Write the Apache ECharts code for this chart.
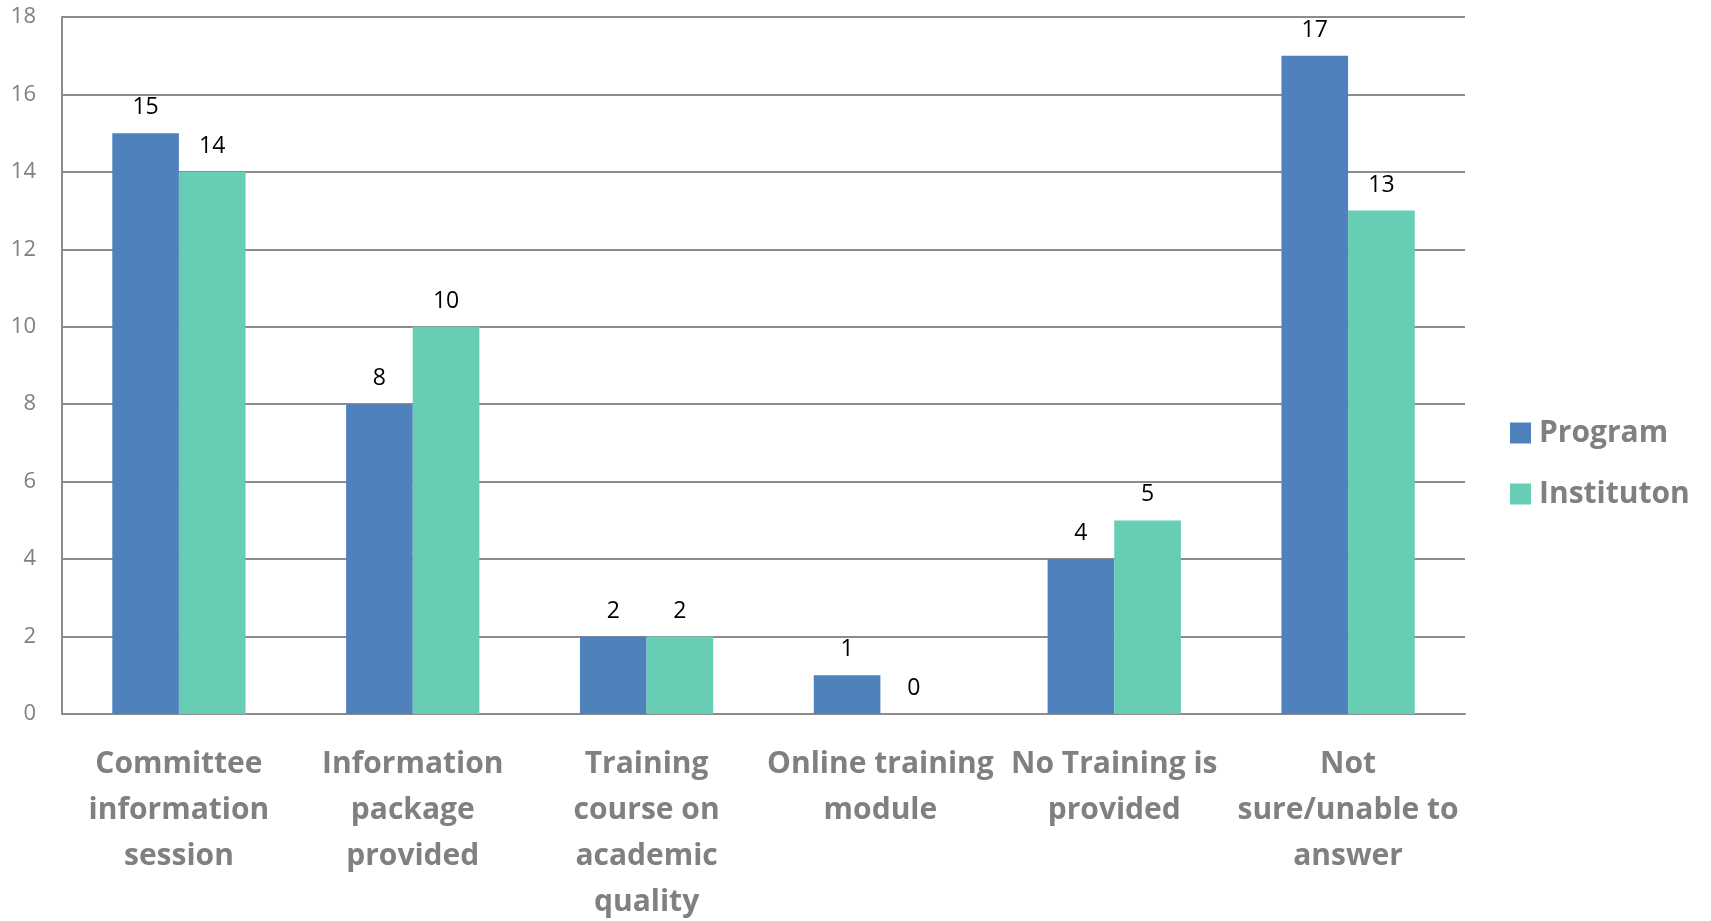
<!DOCTYPE html>
<html>
<head>
<meta charset="utf-8">
<script src="https://cdn.jsdelivr.net/npm/echarts@6/dist/echarts.min.js"></script>
<style>
  html, body { margin: 0; padding: 0; background: #fff; }
  #chart { width: 1711px; height: 921px; }
</style>
</head>
<body>
<div id="chart"></div>
<script>
// categories (line breaks as in the original chart)
const categories = [
  'Committee\ninformation\nsession',
  'Information\npackage\nprovided',
  'Training\ncourse on\nacademic\nquality',
  'Online training\nmodule',
  'No Training is\nprovided',
  'Not\nsure/unable to\nanswer'
]
const programValues = [15, 8, 2, 1, 4, 17]
const institutionValues = [14, 10, 2, 0, 5, 13]
const seriesNames = ['Program', 'Instituton']

const gray = '#808080'
const font = '"Open Sans", "Liberation Sans", sans-serif'

const chart = echarts.init(document.getElementById('chart'))

const labelStyle = {
  show: true,
  position: 'top',
  distance: 14,
  color: '#000',
  fontSize: 23,
  fontFamily: font
}

chart.setOption({
  animation: false,
  grid: { left: 62, right: 246, top: 17, bottom: 207, containLabel: false, outerBoundsMode: 'none' },
  legend: {
    orient: 'vertical',
    left: 1505,
    top: 413,
    itemWidth: 21,
    itemHeight: 21,
    itemGap: 31,
    icon: 'rect',
    data: seriesNames,
    textStyle: { color: gray, fontSize: 30, fontWeight: 'bold', fontFamily: font, padding: [0, 0, 0, 3] }
  },
  xAxis: {
    type: 'category',
    data: categories,
    axisLine: { lineStyle: { color: '#8c8c8c', width: 2 } },
    axisTick: { show: false },
    axisLabel: {
      interval: 0,
      margin: 27,
      color: gray,
      fontSize: 30,
      fontWeight: 'bold',
      lineHeight: 46,
      fontFamily: font
    }
  },
  yAxis: {
    type: 'value',
    min: 0,
    max: 18,
    interval: 2,
    axisLine: { show: true, lineStyle: { color: '#8c8c8c', width: 2 } },
    axisTick: { show: false },
    splitLine: { lineStyle: { color: '#8c8c8c', width: 2 } },
    axisLabel: { color: gray, fontSize: 22, margin: 26, fontFamily: font }
  },
  series: [
    {
      name: seriesNames[0],
      type: 'bar',
      data: programValues,
      barGap: '0%',
      barCategoryGap: '43%',
      itemStyle: { color: '#4F81BD' },
      label: labelStyle
    },
    {
      name: seriesNames[1],
      type: 'bar',
      data: institutionValues,
      itemStyle: { color: '#67CDB4' },
      label: labelStyle
    }
  ]
})
</script>
</body>
</html>
